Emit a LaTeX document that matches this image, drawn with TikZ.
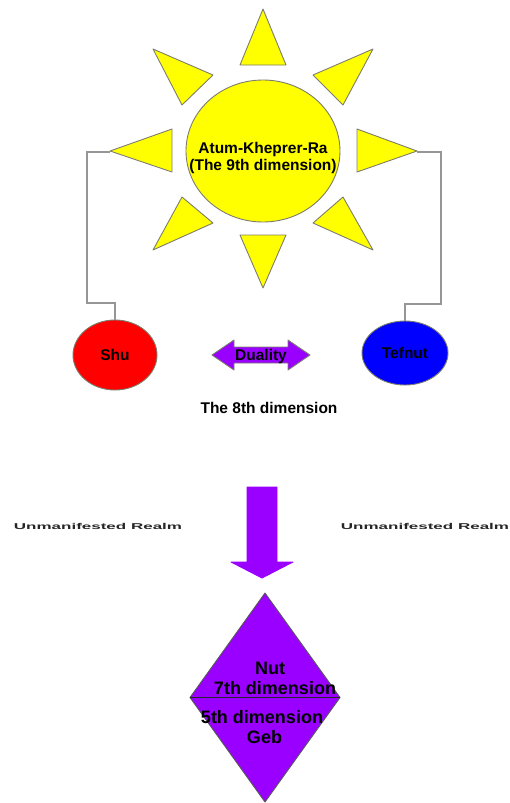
\documentclass[tikz,border=0pt]{standalone}
\usepackage{fontspec}
\setmainfont{Liberation Sans}
\usepackage{graphicx}
\usetikzlibrary{positioning, shapes.geometric}
\definecolor{sunyellow}{RGB}{255,255,0}
\definecolor{realmviolet}{RGB}{153,0,255}
\definecolor{edgegray}{RGB}{125,125,110}
\definecolor{wiregray}{RGB}{150,150,150}

\begin{document}
\begin{tikzpicture}[x=1pt, y=-1pt,
  ray/.style={fill=sunyellow, draw=edgegray, line width=0.9pt, line join=round},
  orb/.style={ellipse, draw=edgegray, line width=0.9pt, inner sep=0pt, outer sep=0pt,
              font=\fontsize{15.5}{17}\selectfont\bfseries},
  wire/.style={draw=wiregray, line width=1.4pt},
  block/.style={fill=realmviolet, draw=black!65, line width=0.9pt, line join=round},
  lbl/.style={font=\fontsize{15.5}{17}\selectfont\bfseries, align=center, inner sep=0pt},
  faint/.style={font=\fontsize{8.5}{10}\selectfont\bfseries, text=black!85, inner sep=0pt}]
  \useasboundingbox (0,0) rectangle (510,803);

  % rays round the sun
  \draw[ray] (240,65) -- (263,9) -- (286,65) -- cycle;
  \draw[ray] (240,235) -- (263,288) -- (286,235) -- cycle;
  \draw[ray] (172,129) -- (110,151) -- (172,172) -- cycle;
  \draw[ray] (357,129) -- (417,151) -- (357,172) -- cycle;
  \draw[ray] (153,49) -- (213,75) -- (182,105) -- cycle;
  \draw[ray] (373,49) -- (313,75) -- (343,105) -- cycle;
  \draw[ray] (182,197) -- (213,223) -- (153,250) -- cycle;
  \draw[ray] (343,197) -- (313,223) -- (373,250) -- cycle;
  \coordinate (rayW) at (110,152);
  \coordinate (rayE) at (417,152);

  \node[orb, fill=sunyellow, minimum width=154pt, minimum height=142pt] (sun) at (263,151) {};
  \node[lbl] (atum) at ([yshift=-7pt]sun.center) {Atum-Kheprer-Ra\\(The 9th dimension)};

  \node[orb, fill=red, minimum width=84pt, minimum height=70pt] (shu) at (115,355) {Shu};
  \node[orb, fill=blue, minimum width=86pt, minimum height=64pt] (tefnut) at (405,353) {Tefnut};
  \draw[wire] (rayW) -- ++(-23,0) |- ([yshift=17pt]shu.north) -- (shu.north);
  \draw[wire] (rayE) -- ++(24,0) |- ([yshift=17pt]tefnut.north) -- (tefnut.north);

  % duality arrow
  \draw[block, draw=edgegray] (212,355) -- (234,340) -- (234,347) -- (288,347) -- (288,340)
    -- (310,355) -- (288,370) -- (288,363) -- (234,363) -- (234,370) -- cycle;
  \node[lbl] (duality) at (261,356) {Duality};
  \node[lbl] (eighth) at (269,408) {The 8th dimension};

  % descent
  \draw[block, draw=realmviolet] (247,487) -- (277,487) -- (277,562) -- (293,562) -- (262,578)
    -- (231,562) -- (247,562) -- cycle;
  \node[faint] (realmL) at (98,526) {\scalebox{2.0}[1]{Unmanifested Realm}};
  \node[faint] (realmR) at (425,526) {\scalebox{2.0}[1]{Unmanifested Realm}};

  \node[diamond, block, minimum width=150pt, minimum height=209pt, inner sep=0pt, outer sep=0pt]
    (realm) at (265,697.5) {};
  \draw[black!85, line width=1.2pt] (realm.west) -- (realm.east);
  \node[lbl, font=\fontsize{18}{20}\selectfont\bfseries] (nut) at (270,678) {Nut\\\ \ 7th dimension};
  \node[lbl, font=\fontsize{18}{20}\selectfont\bfseries] (geb) at (262,727) {5th dimension\\\ Geb};
\end{tikzpicture}
\end{document}
